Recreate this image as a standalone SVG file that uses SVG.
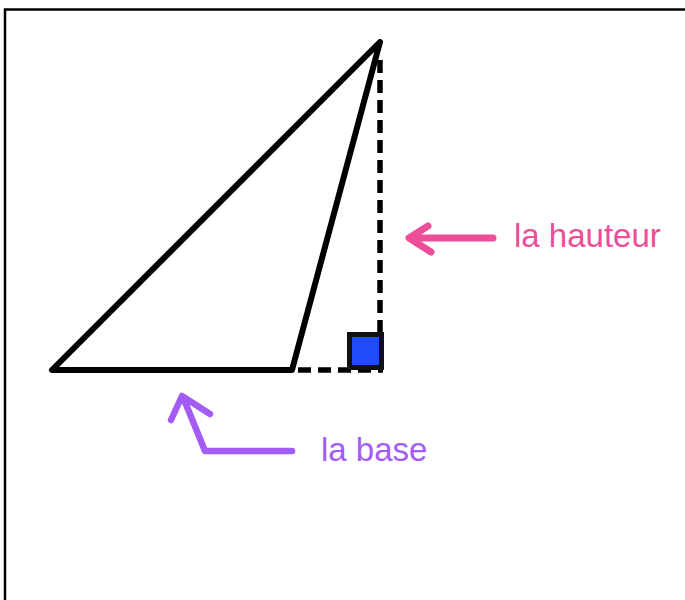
<svg xmlns="http://www.w3.org/2000/svg" width="685" height="600" viewBox="0 0 685 600">
<style>
.solid{fill:none;stroke:#000;stroke-width:6;stroke-linecap:round;stroke-linejoin:round}
.dash{fill:none;stroke:#000;stroke-width:5.5;stroke-dasharray:13 7}
.pink{fill:none;stroke:#EC4E98;stroke-width:7;stroke-linecap:round;stroke-linejoin:round}
.purple{fill:none;stroke:#A35CF6;stroke-width:6.5;stroke-linecap:round;stroke-linejoin:round}
.lbl{font-family:"Liberation Sans",Arial,sans-serif;font-size:33px}
</style>
<rect x="0" y="0" width="685" height="600" fill="#fff"/>
<path d="M5,600 V9.5 H685" fill="none" stroke="#000" stroke-width="2.5"/>
<g id="triangle">
<path class="solid" d="M52,370 H292 L380,42 Z"/>
</g>
<g id="height-line">
<line class="dash" x1="380" y1="60" x2="380" y2="334"/>
</g>
<g id="base-extension">
<line class="dash" x1="298" y1="370" x2="383" y2="370"/>
</g>
<g id="right-angle">
<rect x="349.5" y="334.5" width="32" height="33" fill="#1F4BFA" stroke="#111" stroke-width="5"/>
</g>
<g id="connectors">
<path class="pink" d="M493,238 H410 M428,226 L409,238 L431,252"/>
<path class="purple" d="M292,451 H205 L183,397 M171,420 L182,396 L210,414"/>
</g>
<g id="label-hauteur">
<text class="lbl" x="514" y="247" fill="#EC4E98">la hauteur</text>
</g>
<g id="label-base">
<text class="lbl" x="321" y="461" fill="#A35CF6">la base</text>
</g>
</svg>
